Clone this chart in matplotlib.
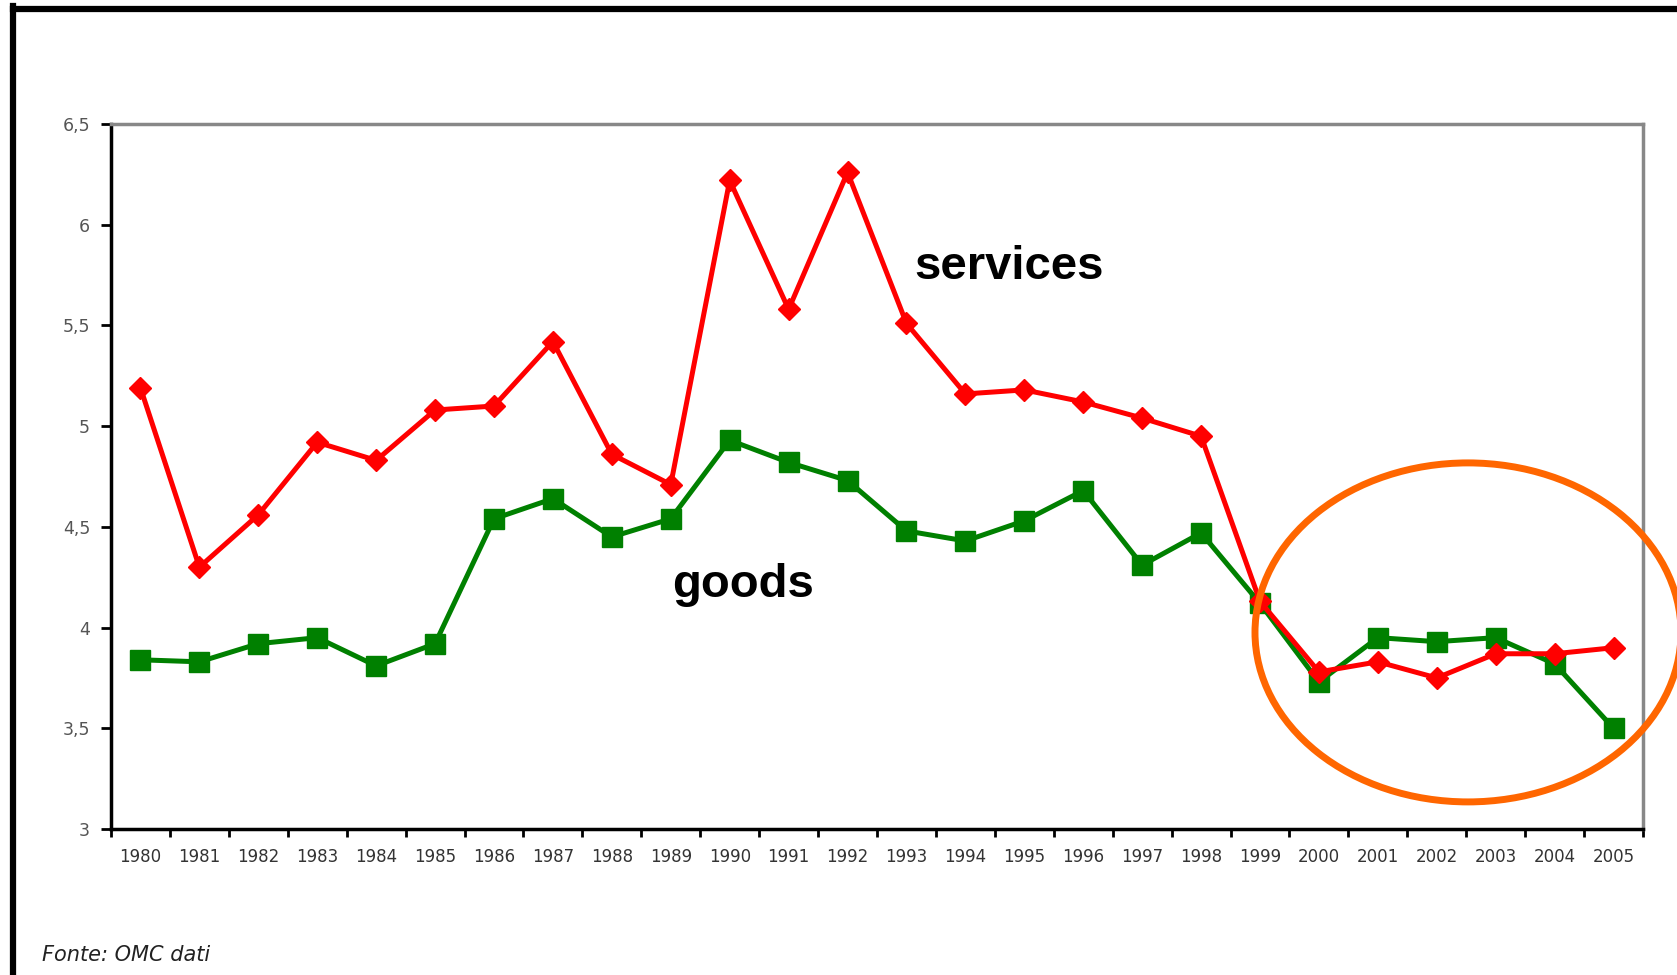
##### Goods vs services chart #####

import numpy as np
import matplotlib.pyplot as plt
from matplotlib.patches import Ellipse
from matplotlib.lines import Line2D

# Data:
years = ['1980', '1981', '1982', '1983', '1984', '1985', '1986', '1987', '1988', '1989',
         '1990', '1991', '1992', '1993', '1994', '1995', '1996', '1997', '1998', '1999',
         '2000', '2001', '2002', '2003', '2004', '2005']
services = [5.19, 4.30, 4.56, 4.92, 4.83, 5.08, 5.10, 5.42, 4.86, 4.71,
            6.22, 5.58, 6.26, 5.51, 5.16, 5.18, 5.12, 5.04, 4.95, 4.13,
            3.78, 3.83, 3.75, 3.87, 3.87, 3.90]
goods = [3.84, 3.83, 3.92, 3.95, 3.81, 3.92, 4.54, 4.64, 4.45, 4.54,
         4.93, 4.82, 4.73, 4.48, 4.43, 4.53, 4.68, 4.31, 4.47, 4.12,
         3.73, 3.95, 3.93, 3.95, 3.82, 3.50]
yticks = [3, 3.5, 4, 4.5, 5, 5.5, 6, 6.5]
ytick_labels = ['3', '3,5', '4', '4,5', '5', '5,5', '6', '6,5']
series_labels = ['services', 'goods']
source_note = 'Fonte: OMC dati'

plt.rcParams['font.family'] = ['Liberation Sans', 'DejaVu Sans']

fig = plt.figure(figsize=(16.77, 9.75), dpi=100)
ax = fig.add_axes([111/1677, 1-829/975, (1643-111)/1677, (829-124)/975])

x = np.arange(len(years))
ax.plot(x, services, color='#ff0000', lw=3.6, marker='D', ms=11, mec='#ff0000', mfc='#ff0000', zorder=3)
ax.plot(x, goods, color='#008000', lw=3.6, marker='s', ms=15, mec='#008000', mfc='#008000', zorder=2)

ax.set_xlim(-0.5, len(years)-0.5)
ax.set_ylim(3, 6.5)
ax.set_yticks(yticks)
ax.set_yticklabels(ytick_labels, fontsize=12.5, color='#555555', family='DejaVu Sans')
# category labels centred, ticks on category borders
ax.set_xticks(x)
ax.set_xticklabels(years, fontsize=12, color='#333333', family='DejaVu Sans')
ax.tick_params(axis='x', which='major', length=0, pad=14)
ax.set_xticks(np.arange(len(years)+1)-0.5, minor=True)
ax.tick_params(axis='x', which='minor', length=6, width=2, color='black', direction='out')
ax.tick_params(axis='y', length=7, width=2, color='black', direction='out', pad=8)

for s in ['left', 'bottom']:
    ax.spines[s].set_color('black')
    ax.spines[s].set_linewidth(2.5)
for s in ['top', 'right']:
    ax.spines[s].set_color('#888888')
    ax.spines[s].set_linewidth(2.5)

ax.text(13.13, 5.79, series_labels[0], fontsize=34, fontweight='bold', va='center', ha='left')
ax.text(9.02, 4.21, series_labels[1], fontsize=34, fontweight='bold', va='center', ha='left')

# orange highlight ellipse round the last years
ax.add_patch(Ellipse((22.53, 3.976), 7.23, 1.683, fill=False, edgecolor='#ff6600', lw=5, clip_on=False, zorder=4))

# black page frame (top and left)
fig.add_artist(Line2D([13/1677, 1], [1-9/975, 1-9/975], color='black', lw=4.5, transform=fig.transFigure))
fig.add_artist(Line2D([13/1677, 13/1677], [0, 1-6/975], color='black', lw=4.5, transform=fig.transFigure))

fig.text(42/1677, 1-955/975, source_note, fontsize=15, style='italic', color='#222222',
         va='center', ha='left', family='DejaVu Sans')

plt.savefig('out.png', dpi=100)
plt.close(None)
